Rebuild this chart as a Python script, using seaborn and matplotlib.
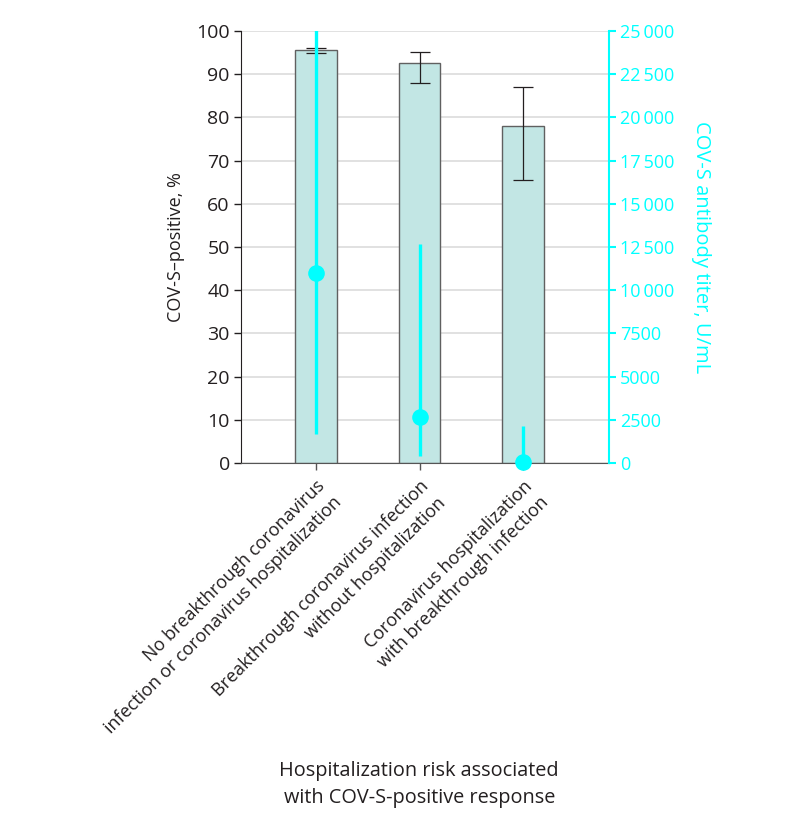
import numpy as np
import pandas as pd
import matplotlib
matplotlib.use("Agg")
import matplotlib.pyplot as plt
import seaborn as sns
from matplotlib.ticker import FuncFormatter

# Data
categories = [
    "No breakthrough coronavirus\ninfection or coronavirus hospitalization",
    "Breakthrough coronavirus infection\nwithout hospitalization",
    "Coronavirus hospitalization\nwith breakthrough infection",
]
pct_positive = [95.5, 92.5, 78.0]
pct_low = [95.0, 88.0, 65.5]
pct_high = [96.0, 95.2, 87.0]

titer_median = [11000, 2650, 50]
titer_low = [1650, 400, 0]
titer_high = [25500, 12650, 2150]

CYAN = "#00ffff"
BAR = "#c2e6e4"
INK = "#231f20"

sns.set_style("white")
plt.rcParams["font.family"] = ["Open Sans", "DejaVu Sans"]
plt.rcParams["text.color"] = INK
plt.rcParams["axes.labelcolor"] = INK
plt.rcParams["xtick.color"] = INK
plt.rcParams["ytick.color"] = INK

df = pd.DataFrame({"group": categories, "pct": pct_positive})

fig = plt.figure(figsize=(7.94, 8.25), dpi=100)
ax = fig.add_axes([0.3035, 0.4388, 0.4635, 0.5236])

ax.set_axisbelow(True)
ax.yaxis.grid(True, color="#dcdcdc", linewidth=1.2)
sns.barplot(data=df, x="group", y="pct", color=BAR, edgecolor="#606060",
            linewidth=1.0, width=0.4, saturation=1, ax=ax, zorder=2)

x = np.arange(len(categories))
yerr = [np.array(pct_positive) - np.array(pct_low),
        np.array(pct_high) - np.array(pct_positive)]
ax.errorbar(x, pct_positive, yerr=yerr, fmt="none", ecolor=INK,
            elinewidth=0.9, capsize=7, capthick=0.9, zorder=3)

ax.set_xlim(-0.725, 2.83)
ax.set_ylim(0, 100)
ax.set_yticks(range(0, 101, 10))
ax.tick_params(axis="y", labelsize=14, length=5, width=1, color=INK,
               left=True, pad=3)
ax.tick_params(axis="x", length=5, width=1, color="#555555", bottom=True, pad=5)
ax.set_xticks(x)
ax.set_xticklabels(categories, rotation=45, ha="right", va="top",
                   rotation_mode="anchor", multialignment="right",
                   fontsize=13, linespacing=1.4)
ax.set_xlabel("")
ax.set_ylabel("COV-S\u2013positive, %", fontsize=13, labelpad=8)

for side in ["top", "right"]:
    ax.spines[side].set_visible(False)
ax.spines["left"].set_color(INK)
ax.spines["bottom"].set_color("#555555")

ax2 = ax.twinx()
ax2.set_ylim(0, 25000)
ax2.set_yticks(range(0, 25001, 2500))
ax2.yaxis.set_major_formatter(FuncFormatter(
    lambda v, p: f"{int(v):,}".replace(",", "\u2009") if v >= 10000 else f"{int(v)}"))
ax2.vlines(x, titer_low, titer_high, color=CYAN, linewidth=2.4, zorder=4)
ax2.scatter(x, titer_median, s=120, color=CYAN, zorder=5, clip_on=False)
ax2.tick_params(axis="y", colors=CYAN, labelcolor=CYAN, labelsize=13,
                length=5, width=1.5, right=True, pad=3)
for side in ["top", "left", "bottom"]:
    ax2.spines[side].set_visible(False)
ax2.spines["right"].set_color(CYAN)
ax2.spines["right"].set_linewidth(1.5)
ax2.set_ylabel("COV-S antibody titer, U/mL", color=CYAN, fontsize=14.5,
               rotation=-90, labelpad=26)

fig.text(0.528, 0.049, "Hospitalization risk associated\nwith COV-S-positive response",
         ha="center", va="center", fontsize=14.3, linespacing=1.5)

fig.savefig("out.png", dpi=100)
